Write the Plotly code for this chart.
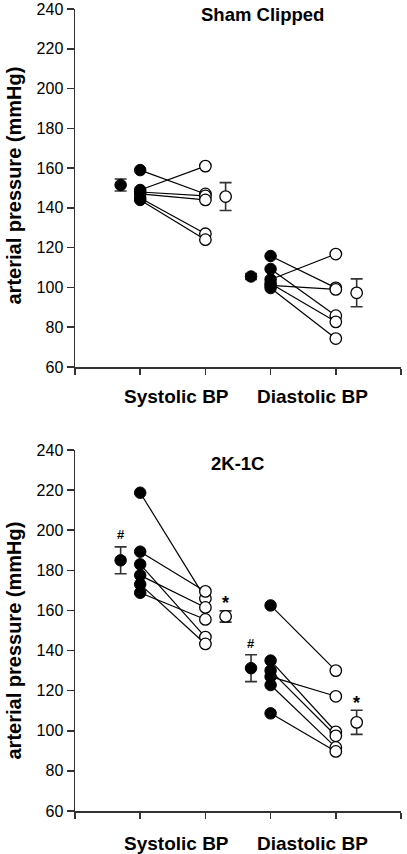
import plotly.graph_objects as go

# ---------------- data ----------------
categories = ["Systolic BP", "Diastolic BP"]
y_ticks = [60, 80, 100, 120, 140, 160, 180, 200, 220, 240]

# Sham Clipped
sham_sys_pre = [159, 149, 148, 147, 145, 144]
sham_sys_post = [147, 161, 146, 144, 127, 124]
sham_dia_pre = [115.8, 109.3, 104, 102, 101, 99.7]
sham_dia_post = [99.8, 85.8, 116.8, 82.7, 99, 74.3]
sham_means_pre = [151.5, 105.5]
sham_se_pre = [3.0, 1.5]
sham_means_post = [145.7, 97.3]
sham_se_post = [7.0, 7.0]

# 2K-1C
k_sys_pre = [218.7, 189.3, 183, 177.5, 173, 168.8]
k_sys_post = [166, 169.5, 146.7, 161.5, 143.3, 155.5]
k_dia_pre = [162.5, 135, 130, 127, 122.8, 108.7]
k_dia_post = [130, 99.5, 97.5, 117.2, 91.7, 89.7]
k_means_pre = [185, 131.2]
k_se_pre = [6.7, 6.7]
k_means_post = [157, 104.2]
k_se_post = [2.8, 6.0]

W, H = 407, 854
FONT = "Liberation Sans, Arial, sans-serif"
AX = "#333333"

fig = go.Figure()


def add_panel(xa, ya, sys_pre, sys_post, dia_pre, dia_post, mpre, spre, mpost, spost):
    xs = {"xaxis": xa, "yaxis": ya}
    for pre, post, x0 in [(sys_pre, sys_post, 1), (dia_pre, dia_post, 3)]:
        for a, b in zip(pre, post):
            fig.add_trace(go.Scatter(x=[x0, x0 + 1], y=[a, b], mode="lines",
                                     line=dict(color="black", width=1.2),
                                     showlegend=False, hoverinfo="skip", **xs))
        fig.add_trace(go.Scatter(x=[x0] * len(pre), y=pre, mode="markers",
                                 marker=dict(size=11.5, color="black",
                                             line=dict(color="black", width=1)),
                                 showlegend=False, **xs))
        fig.add_trace(go.Scatter(x=[x0 + 1] * len(post), y=post, mode="markers",
                                 marker=dict(size=11.5, color="white",
                                             line=dict(color="black", width=1.3)),
                                 showlegend=False, **xs))
    # means
    fig.add_trace(go.Scatter(x=[0.7, 2.7], y=mpre, mode="markers",
                             marker=dict(size=11.5, color="black",
                                         line=dict(color="black", width=1)),
                             error_y=dict(type="data", array=spre, color=AX,
                                          thickness=1.6, width=6),
                             showlegend=False, **xs))
    fig.add_trace(go.Scatter(x=[2.31, 4.32], y=mpost, mode="markers",
                             marker=dict(size=11.5, color="white",
                                         line=dict(color="black", width=1.3)),
                             error_y=dict(type="data", array=spost, color=AX,
                                          thickness=1.6, width=6),
                             showlegend=False, **xs))


add_panel("x", "y", sham_sys_pre, sham_sys_post, sham_dia_pre, sham_dia_post,
          sham_means_pre, sham_se_pre, sham_means_post, sham_se_post)
add_panel("x2", "y2", k_sys_pre, k_sys_post, k_dia_pre, k_dia_post,
          k_means_pre, k_se_pre, k_means_post, k_se_post)

xd = [75 / W, 401 / W]
top_d = [1 - 367 / H, 1 - 9 / H]
bot_d = [1 - 811 / H, 1 - 450 / H]

xax = dict(range=[0, 5], tickvals=[0, 1, 2, 3, 4, 5], showticklabels=False,
           ticks="outside", ticklen=6, tickwidth=1.5, tickcolor=AX,
           showline=True, linecolor=AX, linewidth=1.5, showgrid=False,
           zeroline=False, automargin=False, fixedrange=True)
yax = dict(range=[60, 240], tickvals=y_ticks, ticks="outside", ticklen=7,
           tickwidth=1.5, tickcolor=AX, showline=True, linecolor=AX,
           linewidth=1.5, showgrid=False, zeroline=False, automargin=False,
           ticklabeloverflow="allow",
           tickfont=dict(family=FONT, size=16, color="black"))

fig.update_layout(
    width=W, height=H,
    margin=dict(l=0, r=0, t=0, b=0),
    paper_bgcolor="white", plot_bgcolor="white",
    template=None,
    showlegend=False,
    xaxis=dict(domain=xd, anchor="y", **xax),
    yaxis=dict(domain=top_d, anchor="x", **yax),
    xaxis2=dict(domain=xd, anchor="y2", **xax),
    yaxis2=dict(domain=bot_d, anchor="x2", **yax),
)

bold = dict(family=FONT, color="black")
ann = []
# y titles
ann.append(dict(text="<b>arterial pressure (mmHg)</b>", x=13.5 / W, y=1 - 186 / H,
                xref="paper", yref="paper", textangle=-90, showarrow=False,
                xanchor="center", yanchor="middle", font=dict(size=20, **bold)))
ann.append(dict(text="<b>arterial pressure (mmHg)</b>", x=13.5 / W, y=1 - 641 / H,
                xref="paper", yref="paper", textangle=-90, showarrow=False,
                xanchor="center", yanchor="middle", font=dict(size=20, **bold)))
# panel titles
ann.append(dict(text="<b>Sham Clipped</b>", x=262 / W, y=1 - 14 / H, xref="paper",
                yref="paper", showarrow=False, xanchor="center", yanchor="middle",
                font=dict(size=18.5, **bold)))
ann.append(dict(text="<b>2K-1C</b>", x=237 / W, y=1 - 463 / H, xref="paper",
                yref="paper", showarrow=False, xanchor="center", yanchor="middle",
                font=dict(size=18.5, **bold)))
# category labels
for yy in [396, 843]:
    for cx, cat in zip([176, 312], categories):
        ann.append(dict(text="<b>%s</b>" % cat, x=cx / W, y=1 - yy / H,
                        xref="paper", yref="paper", showarrow=False,
                        xanchor="center", yanchor="middle",
                        font=dict(size=19, **bold)))
# significance marks (bottom panel)
ann.append(dict(text="<b>#</b>", x=0.7, y=198, xref="x2", yref="y2",
                showarrow=False, font=dict(size=13, **bold)))
ann.append(dict(text="<b>#</b>", x=2.7, y=143.5, xref="x2", yref="y2",
                showarrow=False, font=dict(size=13, **bold)))
ann.append(dict(text="<b>*</b>", x=2.31, y=163.5, xref="x2", yref="y2",
                showarrow=False, font=dict(size=18, **bold)))
ann.append(dict(text="<b>*</b>", x=4.32, y=114, xref="x2", yref="y2",
                showarrow=False, font=dict(size=18, **bold)))
fig.update_layout(annotations=ann)

fig.write_html("out.html",
               config={"displayModeBar": False, "staticPlot": True},
               post_script="document.body.style.margin='0';"
                           "document.body.style.overflow='hidden';")
